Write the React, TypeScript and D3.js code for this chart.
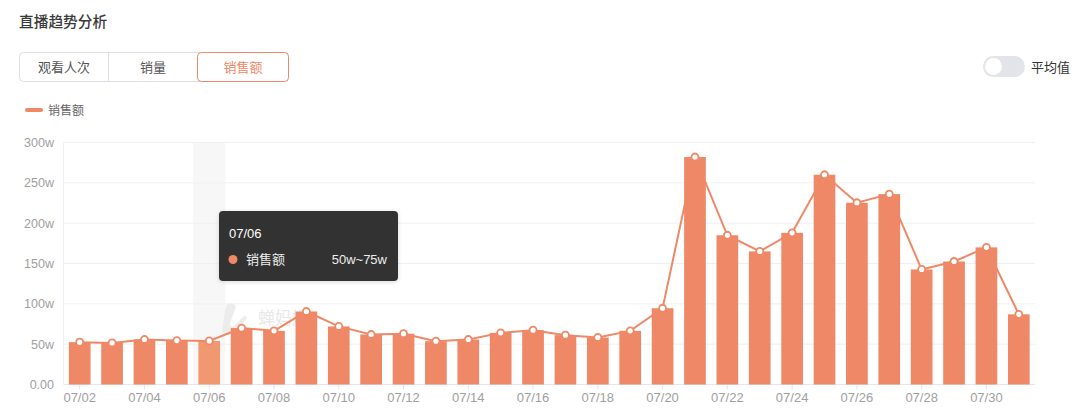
import React from "react";
import * as d3 from "d3";

const categories = [
  "07/02","07/03","07/04","07/05","07/06","07/07","07/08","07/09","07/10","07/11",
  "07/12","07/13","07/14","07/15","07/16","07/17","07/18","07/19","07/20","07/21",
  "07/22","07/23","07/24","07/25","07/26","07/27","07/28","07/29","07/30","07/31",
];
const salesValues = [
  52.5, 51.5, 55.8, 54.5, 54, 70, 66.5, 90.5, 72, 62,
  63, 53.7, 55.8, 64, 67.3, 61.2, 58.3, 66.5, 94.5, 282,
  185, 165, 188, 260, 225.3, 236, 142.6, 152.5, 170, 87,
];
const yTickValues = [0, 50, 100, 150, 200, 250, 300];
const yTickLabels = ["0.00", "50w", "100w", "150w", "200w", "250w", "300w"];
const tabLabels = ["观看人次", "销量", "销售额"];
const seriesName = "销售额";
const hoverIndex = 4;
const tooltipRange = "50w~75w";

const ORANGE = "#EF8866";
const FONT = "'Helvetica Neue', Arial, 'Noto Sans CJK SC', sans-serif";

export default function App() {
  const W = 1080, H = 420;
  const left = 63.5, right = 1035, top = 142.5, bottom = 384.5;

  const x = d3.scaleBand<string>().domain(categories).range([left, right]).paddingInner(0.33).paddingOuter(0.165);
  const xFull = d3.scaleBand<string>().domain(categories).range([left, right]).padding(0);
  const y = d3.scaleLinear().domain([0, 300]).range([bottom, top]);

  const line = d3.line<number>()
    .x((_, i) => (x(categories[i]) as number) + x.bandwidth() / 2)
    .y((d) => y(d));

  const tabX = [19.5, 108.5, 197.5, 288.5];
  const hoverCat = categories[hoverIndex];

  return (
    <svg width={W} height={H} style={{ position: "absolute", left: 0, top: 0, background: "#fff" }} fontFamily={FONT}>
      {/* title */}
      <text x={19} y={26.5} fontSize={14.7} fill="#3a3a3a" fontWeight={500} fontFamily="'Noto Sans CJK SC', sans-serif">直播趋势分析</text>

      {/* tabs */}
      <rect x={tabX[0]} y={52.5} width={tabX[3] - tabX[0]} height={29} rx={4} fill="#fff" stroke="#dcdfe6" />
      <line x1={tabX[1]} x2={tabX[1]} y1={52.5} y2={81.5} stroke="#dcdfe6" />
      <rect x={tabX[2]} y={52.5} width={tabX[3] - tabX[2]} height={29} rx={4} fill="#fff" stroke={ORANGE} />
      {tabLabels.map((t, i) => (
        <text key={t} x={(tabX[i] + tabX[i + 1]) / 2} y={71.5} fontSize={13} textAnchor="middle"
          fill={i === 2 ? ORANGE : "#555"}>{t}</text>
      ))}

      {/* toggle */}
      <rect x={983} y={56} width={42} height={21} rx={10.5} fill="#e3e4e9" />
      <circle cx={993.5} cy={66.5} r={8.5} fill="#fff" />
      <text x={1031} y={71.5} fontSize={13} fill="#333">平均值</text>

      {/* legend */}
      <line x1={27} x2={41} y1={110} y2={110} stroke={ORANGE} strokeWidth={4} strokeLinecap="round" />
      <text x={48} y={114.5} fontSize={12} fill="#666">{seriesName}</text>

      {/* hover band */}
      <rect x={xFull(hoverCat)} y={top} width={xFull.bandwidth()} height={bottom - top} fill="#f7f7f8" />

      {/* grid */}
      {yTickValues.map((v, i) => (
        <g key={v}>
          <line x1={left} x2={right} y1={y(v)} y2={y(v)} stroke={i === 0 ? "#e3e6ee" : "#eef0f5"} />
          <text x={54} y={y(v) + 4.5} fontSize={12.5} textAnchor="end" fill="#a0a0a0">{yTickLabels[i]}</text>
        </g>
      ))}
      <line x1={left} x2={left} y1={top} y2={bottom} stroke="#eef0f5" />

      {/* watermark */}
      <g>
        <path d="M226,305 q8,-4 10,2 l-6,16 q-1,4 4,3 l10,-10 q4,0 2,4 l-12,14 q-10,4 -12,-4 z" fill="#ececec" />
        <text x={258} y={324} fontSize={17} fill="#e8e8e8">蝉妈妈</text>
      </g>

      {/* x ticks */}
      {categories.map((c, i) => {
        if (i % 2 !== 0) return null;
        const cx = (x(c) as number) + x.bandwidth() / 2;
        return (
          <g key={c}>
            <line x1={cx} x2={cx} y1={bottom} y2={bottom + 5} stroke="#e3e6ee" />
            <text x={cx} y={402} fontSize={13} textAnchor="middle" fill="#a0a0a0">{c}</text>
          </g>
        );
      })}

      {/* bars */}
      {salesValues.map((v, i) => (
        <rect key={categories[i]} x={x(categories[i])} y={y(v)} width={x.bandwidth()} height={bottom - y(v)}
          fill={i === hoverIndex ? "#F29870" : ORANGE} />
      ))}

      {/* line */}
      <path d={line(salesValues) || ""} fill="none" stroke={ORANGE} strokeWidth={2} />
      {salesValues.map((v, i) => (
        <circle key={categories[i]} cx={(x(categories[i]) as number) + x.bandwidth() / 2} cy={y(v)} r={3.5}
          fill="#fff" stroke={ORANGE} strokeWidth={1.8} />
      ))}

      {/* tooltip */}
      <defs>
        <filter id="sh" x="-10%" y="-20%" width="120%" height="150%">
          <feDropShadow dx="0" dy="1" stdDeviation="2" floodColor="#000" floodOpacity="0.15" />
        </filter>
      </defs>
      <rect x={219} y={211} width={179} height={70} rx={4} fill="#333333" filter="url(#sh)" />
      <text x={229} y={237.5} fontSize={13} fill="#fff">{hoverCat}</text>
      <circle cx={233} cy={259.5} r={4.5} fill={ORANGE} />
      <text x={246} y={264} fontSize={13} fill="#eee">{seriesName}</text>
      <text x={387} y={264} fontSize={13} fill="#eee" textAnchor="end">{tooltipRange}</text>
    </svg>
  );
}
